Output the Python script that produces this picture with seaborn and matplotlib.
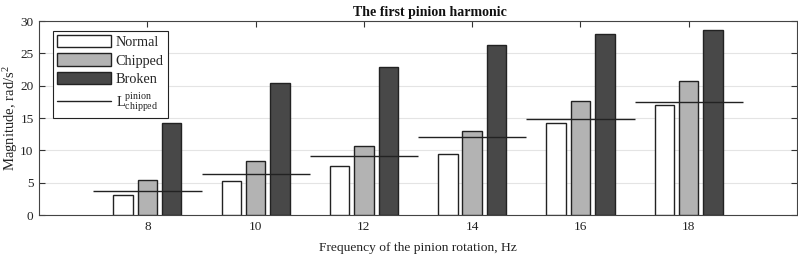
import numpy as np
import pandas as pd
import matplotlib
matplotlib.use("Agg")
import matplotlib.pyplot as plt
import seaborn as sns
from matplotlib.patches import Patch
from matplotlib.lines import Line2D

freqs = [8, 10, 12, 14, 16, 18]
normal = [3.1, 5.2, 7.6, 9.4, 14.2, 17.0]
chipped = [5.5, 8.3, 10.7, 13.0, 17.7, 20.7]
broken = [14.2, 20.4, 22.9, 26.3, 28.0, 28.6]
threshold = [3.66, 6.4, 9.1, 12.0, 14.8, 17.5]
conditions = ["Normal", "Chipped", "Broken"]
colors = ["#ffffff", "#b3b3b3", "#484848"]

sns.set_theme(style="white")
plt.rcParams["font.family"] = ["Liberation Serif", "DejaVu Serif"]
plt.rcParams["mathtext.fontset"] = "custom"
plt.rcParams["mathtext.rm"] = "Liberation Serif"
plt.rcParams["mathtext.it"] = "Liberation Serif:italic"

df = pd.DataFrame({
    "freq": freqs * 3,
    "mag": normal + chipped + broken,
    "cond": [c for c in conditions for _ in freqs],
})

fig = plt.figure(figsize=(7.98, 2.57), dpi=100)
ax = fig.add_axes([0.049, 0.163, 0.9497, 0.755])

sns.barplot(data=df, x="freq", y="mag", hue="cond", hue_order=conditions,
            palette=colors, native_scale=True, width=0.675, gap=0.2,
            edgecolor="#222222", linewidth=1.0, legend=False, ax=ax,
            errorbar=None, zorder=3)

ax.hlines(threshold, [f - 1 for f in freqs], [f + 1 for f in freqs],
          color="#222222", linewidth=1.0, zorder=4)

ax.set_xlim(6, 20)
ax.set_ylim(0, 30)
ax.set_xticks(freqs)
ax.set_xticklabels([str(f) for f in freqs])
ax.set_yticks([0, 5, 10, 15, 20, 25, 30])
ax.yaxis.grid(True, color="#e4e4e4", linewidth=0.8, zorder=0)
ax.set_axisbelow(True)
ax.tick_params(direction="in", length=4, width=0.8, colors="#333333",
               labelsize=9.5, top=True, right=True, bottom=True, left=True,
               labelcolor="#222222", pad=4)
for s in ax.spines.values():
    s.set_color("#444444")
    s.set_linewidth(0.8)

ax.set_title("The first pinion harmonic", fontsize=10, fontweight="bold",
             pad=4, color="#111111", x=0.516)
ax.set_xlabel("Frequency of the pinion rotation, Hz", fontsize=9.7,
              labelpad=7, color="#222222")
ax.set_ylabel("Magnitude, rad/s$^2$", fontsize=10.5, labelpad=0, color="#222222")

handles = [Patch(facecolor=c, edgecolor="#222222", linewidth=1.0) for c in colors]
handles.append(Line2D([0], [0], color="#222222", linewidth=1.0))
labels = conditions + [r"$\mathrm{L}^{\mathrm{pinion}}_{\mathrm{chipped}}$"]
leg = ax.legend(handles, labels, loc="upper left", bbox_to_anchor=(0.018, 0.95),
                fontsize=10.3, frameon=True, fancybox=False, framealpha=1,
                edgecolor="#222222", handlelength=3.8, handleheight=0.95,
                handletextpad=0.3, labelspacing=0.3, borderpad=0.3,
                borderaxespad=0)
leg.get_frame().set_linewidth(0.8)

fig.savefig("out.png", dpi=100)
